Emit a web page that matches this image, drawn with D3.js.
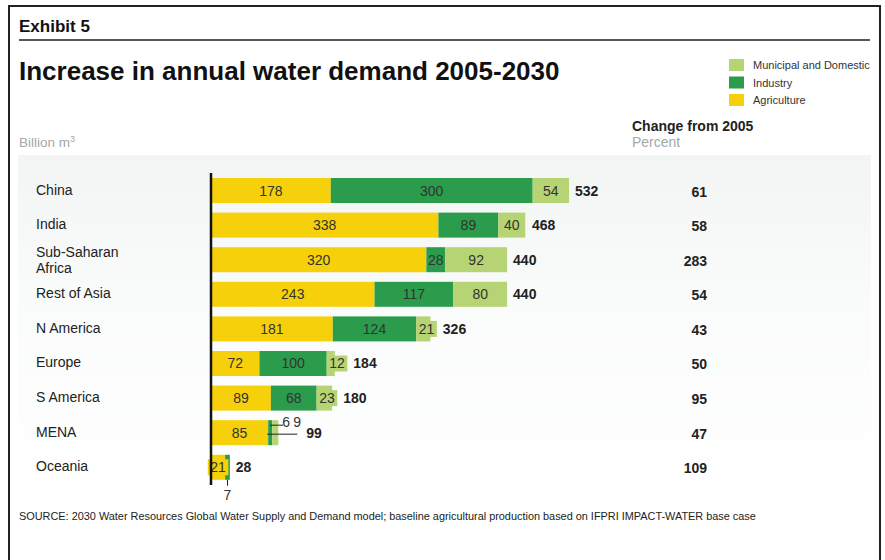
<!DOCTYPE html>
<html>
<head>
<meta charset="utf-8">
<script src="https://cdn.jsdelivr.net/npm/d3@7"></script>
<style>
  body { margin: 0; background: #fff; }
  svg { font-family: "Liberation Sans", Arial, sans-serif; }
</style>
</head>
<body>
<div id="chart"></div>
<script>
// Data
var regions = ["China", "India", "Sub-Saharan Africa", "Rest of Asia", "N America", "Europe", "S America", "MENA", "Oceania"];
var agriculture = [178, 338, 320, 243, 181, 72, 89, 85, 21];
var industry = [300, 89, 28, 117, 124, 100, 68, 6, 7];
var municipal = [54, 40, 92, 80, 21, 12, 23, 9, 0];
var totals = [532, 468, 440, 440, 326, 184, 180, 99, 28];
var changePct = [61, 58, 283, 54, 43, 50, 95, 47, 109];
var seriesNames = ["Agriculture", "Industry", "Municipal and Domestic"];

var colors = { "Agriculture": "#f6d10b", "Industry": "#2a9c4b", "Municipal and Domestic": "#b6d473" };

var W = 885, H = 560;
var svg = d3.select("#chart").append("svg").attr("width", W).attr("height", H);

// background panel gradient
var defs = svg.append("defs");
var grad = defs.append("linearGradient").attr("id", "panel").attr("x1", 0).attr("y1", 0).attr("x2", 0).attr("y2", 1);
grad.append("stop").attr("offset", "0%").attr("stop-color", "#f3f5f5");
grad.append("stop").attr("offset", "45%").attr("stop-color", "#fafbfb");
grad.append("stop").attr("offset", "100%").attr("stop-color", "#ffffff");

// frame
svg.append("path")
    .attr("d", "M9,562 L9,6 L880,6 L880,562")
    .attr("fill", "none")
    .attr("stroke", "#222")
    .attr("stroke-width", 2);

svg.append("text").attr("x", 19).attr("y", 32)
    .attr("font-size", "17px").attr("font-weight", "bold").attr("fill", "#111")
    .text("Exhibit 5");
svg.append("line").attr("x1", 19).attr("x2", 870).attr("y1", 40).attr("y2", 40)
    .attr("stroke", "#222").attr("stroke-width", 1.5);

svg.append("text").attr("x", 19).attr("y", 80)
    .attr("font-size", "26px").attr("font-weight", "bold").attr("fill", "#111")
    .text("Increase in annual water demand 2005-2030");

// legend
var legendOrder = ["Municipal and Domestic", "Industry", "Agriculture"];
var legend = svg.append("g").attr("transform", "translate(729,59)");
legendOrder.forEach(function(s, i) {
    legend.append("rect").attr("x", 0).attr("y", i * 17.5).attr("width", 15).attr("height", 12).attr("fill", colors[s]);
    legend.append("text").attr("x", 24).attr("y", i * 17.5 + 10)
        .attr("font-size", "11px").attr("fill", "#333").text(s);
});

svg.append("text").attr("x", 632).attr("y", 131)
    .attr("font-size", "14px").attr("font-weight", "bold").attr("fill", "#222")
    .text("Change from 2005");
svg.append("text").attr("x", 632).attr("y", 147)
    .attr("font-size", "14px").attr("fill", "#a4a8a8").text("Percent");
var bl = svg.append("text").attr("x", 19).attr("y", 147)
    .attr("font-size", "13.5px").attr("fill", "#a4a8a8");
bl.append("tspan").text("Billion m");
bl.append("tspan").attr("font-size", "9px").attr("dy", -5).text("3");

svg.append("rect").attr("x", 18).attr("y", 155).attr("width", 853).attr("height", 335).attr("fill", "url(#panel)");

// scales
var x = d3.scaleLinear().domain([0, 532]).range([211, 569]);
var y = d3.scaleBand().domain(regions).range([178, 479.8]).paddingInner(0.277).paddingOuter(0);

var rows = regions.map(function(r, i) {
    return { region: r, Agriculture: agriculture[i], Industry: industry[i], "Municipal and Domestic": municipal[i],
             total: totals[i], pct: changePct[i] };
});
var stacked = d3.stack().keys(seriesNames)(rows);

var g = svg.append("g");
var barEnds = {};
rows.forEach(function(r) { barEnds[r.region] = x(r.total); });

stacked.forEach(function(layer, li) {
    layer.forEach(function(d) {
        var v = d[1] - d[0];
        if (v <= 0) return;
        var region = d.data.region;
        var x0 = x(d[0]), x1 = x(d[1]);
        g.append("rect").attr("x", x0).attr("y", y(region)).attr("width", x1 - x0).attr("height", y.bandwidth())
            .attr("fill", colors[layer.key]);
    });
});

// segment labels
stacked.forEach(function(layer, li) {
    layer.forEach(function(d) {
        var v = d[1] - d[0];
        if (v <= 0) return;
        var region = d.data.region;
        var x0 = x(d[0]), x1 = x(d[1]);
        var cy = y(region) + y.bandwidth() / 2;
        var w = x1 - x0;
        if (w < 8) return; // callouts handled below
        var t = g.append("text").attr("y", cy + 5).attr("text-anchor", "middle")
            .attr("font-size", "14px").attr("fill", "#333").text(v);
        var tw = t.node().getComputedTextLength();
        var cx = (x0 + x1) / 2;
        if (tw + 2 > w) {
            var bw = tw + 5, bx = li === 0 ? cx - bw / 2 : x0;
            g.insert("rect", function() { return t.node(); })
                .attr("x", bx).attr("y", cy - 8).attr("width", bw).attr("height", 16)
                .attr("fill", colors[layer.key]);
            cx = bx + bw / 2;
            barEnds[region] = Math.max(barEnds[region], bx + bw);
        }
        t.attr("x", cx);
    });
});

// callouts for very thin segments
var cs = function(region, key) {
    var li = seriesNames.indexOf(key);
    var d = stacked[li][regions.indexOf(region)];
    return { x: (x(d[0]) + x(d[1])) / 2, v: d[1] - d[0], y: y(region), h: y.bandwidth() };
};
var mi = cs("MENA", "Industry"), mm = cs("MENA", "Municipal and Domestic");
g.append("line").attr("x1", mi.x).attr("x2", mi.x + 13).attr("y1", mi.y + 5).attr("y2", mi.y + 5)
    .attr("stroke", "#222").attr("stroke-width", 1);
g.append("text").attr("x", mi.x + 12).attr("y", mi.y + 7).attr("font-size", "14px").attr("fill", "#333").text(mi.v);
g.append("line").attr("x1", mm.x - 8).attr("x2", mm.x + 22).attr("y1", mm.y + 14).attr("y2", mm.y + 14)
    .attr("stroke", "#222").attr("stroke-width", 1);
g.append("text").attr("x", mm.x + 18).attr("y", mm.y + 7).attr("font-size", "14px").attr("fill", "#333").text(mm.v);
barEnds["MENA"] = mm.x + 25;

var oi = cs("Oceania", "Industry");
g.append("line").attr("x1", oi.x).attr("x2", oi.x).attr("y1", oi.y + oi.h).attr("y2", oi.y + oi.h + 6)
    .attr("stroke", "#222").attr("stroke-width", 1);
g.append("text").attr("x", oi.x).attr("y", oi.y + oi.h + 20).attr("text-anchor", "middle")
    .attr("font-size", "14px").attr("fill", "#333").text(oi.v);

// totals and change column
rows.forEach(function(r) {
    g.append("text").attr("x", barEnds[r.region] + 6).attr("y", y(r.region) + y.bandwidth() / 2 + 5)
        .attr("font-size", "14px").attr("font-weight", "bold").attr("fill", "#222").text(r.total);
    g.append("text").attr("x", 707).attr("y", y(r.region) + y.bandwidth() / 2 + 6)
        .attr("text-anchor", "end")
        .attr("font-size", "14px").attr("font-weight", "bold").attr("fill", "#222").text(r.pct);
});

// category labels
rows.forEach(function(r) {
    var cy = y(r.region) + y.bandwidth() / 2;
    if (r.region === "Sub-Saharan Africa") {
        var t = g.append("text").attr("font-size", "14px").attr("fill", "#222");
        t.append("tspan").attr("x", 36).attr("y", cy - 3).text("Sub-Saharan");
        t.append("tspan").attr("x", 36).attr("y", cy + 13).text("Africa");
    } else {
        g.append("text").attr("x", 36).attr("y", cy + 4).attr("font-size", "14px").attr("fill", "#222").text(r.region);
    }
});

// axis line
svg.append("line").attr("x1", x(0)).attr("x2", x(0)).attr("y1", 173).attr("y2", 485)
    .attr("stroke", "#111").attr("stroke-width", 2.5);

svg.append("text").attr("x", 19).attr("y", 520)
    .attr("font-size", "10.9px").attr("fill", "#222")
    .text("SOURCE: 2030 Water Resources Global Water Supply and Demand model; baseline agricultural production based on IFPRI IMPACT-WATER base case");
</script>
</body>
</html>
